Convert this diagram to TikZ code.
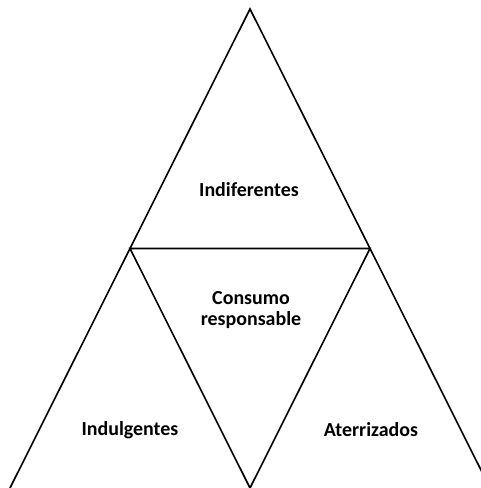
\documentclass[tikz,border=0pt]{standalone}
\usepackage{fontspec}
\setmainfont{Carlito}
\begin{document}
\begin{tikzpicture}[x=1bp,y=-1bp,
  edge/.style={line width=1.6bp,black,line join=miter},
  lbl/.style={font=\bfseries\fontsize{20}{21}\selectfont,align=center,inner sep=0pt}]
\path[use as bounding box] (0,0) rectangle (481,488);
\begin{scope}
\clip (0,0) rectangle (481,488);
\coordinate (A) at (250,9);
\coordinate (L) at (10,488);
\coordinate (R) at (490,488);
\coordinate (ML) at (130,248.5);
\coordinate (MR) at (370,248.5);
\coordinate (MB) at (250,488);
\draw[edge] (L) -- (A) -- (R);
\draw[edge] (ML) -- (MR) -- (MB) -- cycle;
\end{scope}
\node[lbl] (ind) at (249,190) {Indiferentes};
\node[lbl] (con) at (251,310) {Consumo\\responsable};
\node[lbl] (idl) at (130,430) {Indulgentes};
\node[lbl] (ate) at (371,430) {Aterrizados};
\end{tikzpicture}
\end{document}
